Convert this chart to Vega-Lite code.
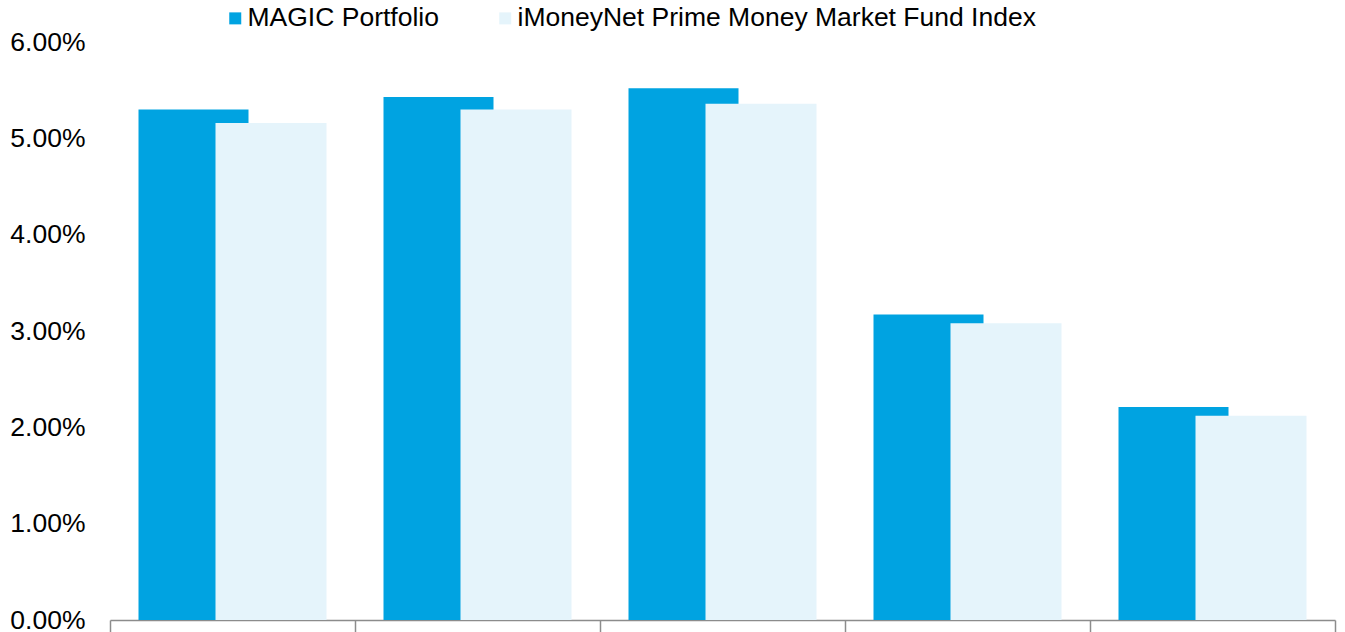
{
  "$schema": "https://vega.github.io/schema/vega-lite/v6.json",
  "width": 1225,
  "height": 578,
  "autosize": "none",
  "padding": {"left": 110, "top": 42, "right": 10, "bottom": 12},
  "background": "white",
  "config": {
    "view": {"stroke": null},
    "font": "Liberation Sans"
  },
  "data": {
    "values": [
      {"period": "1 Month", "series": "MAGIC Portfolio", "value": 0.0530},
      {"period": "1 Month", "series": "iMoneyNet Prime Money Market Fund Index", "value": 0.0516},
      {"period": "3 Months", "series": "MAGIC Portfolio", "value": 0.0543},
      {"period": "3 Months", "series": "iMoneyNet Prime Money Market Fund Index", "value": 0.0530},
      {"period": "1 Year", "series": "MAGIC Portfolio", "value": 0.0552},
      {"period": "1 Year", "series": "iMoneyNet Prime Money Market Fund Index", "value": 0.0536},
      {"period": "3 Years", "series": "MAGIC Portfolio", "value": 0.0317},
      {"period": "3 Years", "series": "iMoneyNet Prime Money Market Fund Index", "value": 0.0308},
      {"period": "5 Years", "series": "MAGIC Portfolio", "value": 0.0221},
      {"period": "5 Years", "series": "iMoneyNet Prime Money Market Fund Index", "value": 0.0212}
    ]
  },
  "encoding": {
    "x": {
      "field": "period",
      "type": "nominal",
      "sort": null,
      "scale": {"paddingInner": 0, "paddingOuter": 0},
      "axis": {
        "title": null,
        "labels": false,
        "bandPosition": 1,
        "tickExtra": true,
        "tickSize": 14,
        "tickColor": "#8c8c8c",
        "tickWidth": 1.5,
        "domainColor": "#8c8c8c",
        "domainWidth": 1.5
      }
    },
    "y": {
      "field": "value",
      "type": "quantitative",
      "scale": {"domain": [0, 0.06], "nice": false},
      "axis": {
        "title": null,
        "format": ".2%",
        "values": [0, 0.01, 0.02, 0.03, 0.04, 0.05, 0.06],
        "grid": false,
        "ticks": false,
        "domain": false,
        "labelPadding": 25,
        "labelFontSize": 26.5,
        "labelColor": "#000000",
        "labelFont": "Liberation Sans"
      }
    },
    "color": {
      "field": "series",
      "type": "nominal",
      "scale": {
        "domain": ["MAGIC Portfolio", "iMoneyNet Prime Money Market Fund Index"],
        "range": ["#00A3E1", "#E5F4FB"]
      },
      "legend": {
        "title": null,
        "orient": "none",
        "direction": "horizontal",
        "legendX": 112,
        "legendY": -37,
        "padding": 0,
        "symbolType": "square",
        "symbolSize": 144,
        "symbolStrokeWidth": 0,
        "labelFontSize": 26.5,
        "labelFont": "Liberation Sans",
        "labelColor": "#000000",
        "labelOffset": -1,
        "columnPadding": 53,
        "labelLimit": 1000
      }
    }
  },
  "layer": [
    {
      "transform": [{"filter": "datum.series === 'MAGIC Portfolio'"}],
      "mark": {"type": "bar", "width": 110, "xOffset": -39}
    },
    {
      "transform": [{"filter": "datum.series !== 'MAGIC Portfolio'"}],
      "mark": {"type": "bar", "width": 111, "xOffset": 38.5}
    }
  ]
}
